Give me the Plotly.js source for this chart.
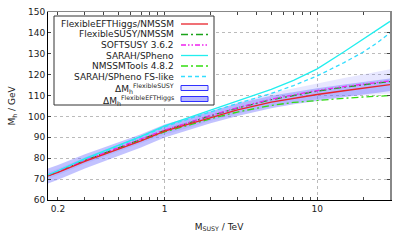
<!DOCTYPE html>
<html>
<head>
<meta charset="utf-8">
<script src="https://cdn.plot.ly/plotly-3.0.1.min.js"></script>
<style>html,body{margin:0;padding:0;background:#fff}#c{width:407px;height:244px}</style>
</head>
<body>
<div id="c"></div>
<script>
// M_SUSY / TeV
const msusy = [0.172, 0.2, 0.3, 0.5, 0.7, 1, 1.5, 2, 3, 5, 7, 10, 15, 20, 25, 30];
// M_h / GeV
const fehNMSSM   = [71.5, 73.2, 78.5, 84.5, 88.3, 93.0, 96.8, 99.7, 103.2, 106.9, 108.8, 110.5, 112.3, 113.5, 114.4, 115.2];
const fsNMSSM    = [71.7, 73.5, 78.9, 84.9, 88.8, 93.3, 97.3, 100.3, 104.0, 108.0, 110.0, 112.1, 114.0, 115.2, 116.1, 116.7];
const softsusy   = [71.8, 73.6, 79.0, 85.0, 89.0, 93.5, 97.5, 100.5, 104.2, 108.3, 110.3, 112.4, 114.3, 115.5, 116.4, 117.0];
const sarah      = [72.0, 74.0, 79.8, 86.2, 90.5, 95.5, 100.0, 103.2, 107.5, 113.0, 117.3, 122.8, 131.0, 137.0, 141.5, 145.5];
const nmssmtools = [71.8, 73.5, 78.8, 84.6, 88.3, 92.6, 96.2, 98.9, 102.1, 105.3, 106.7, 107.8, 108.7, 109.3, 109.7, 110.0];
const sarahFS    = [72.0, 74.0, 79.6, 86.0, 90.2, 95.0, 99.3, 102.3, 106.2, 111.0, 114.8, 119.4, 125.8, 130.8, 135.5, 140.0];
// uncertainty bands
const fsBandLow  = [70.2, 72.0, 77.3, 83.2, 87.0, 91.3, 95.0, 97.9, 101.3, 104.8, 106.5, 108.4, 109.6, 110.3, 110.8, 111.0];
const fsBandHigh = [73.2, 75.0, 80.5, 86.6, 90.6, 95.3, 99.6, 102.7, 106.7, 111.2, 113.5, 115.8, 118.4, 120.1, 121.4, 122.6];
const fehBandLow = [67.9, 69.7, 75.1, 81.2, 85.1, 89.9, 93.8, 96.7, 100.2, 103.9, 105.8, 107.5, 109.3, 110.5, 111.4, 112.2];
const fehBandHigh= [75.1, 76.7, 81.9, 87.8, 91.5, 96.1, 99.8, 102.7, 106.2, 109.9, 111.8, 113.5, 115.3, 116.5, 117.4, 118.2];
// ticks
const xTickVals = [0.2, 1, 10];
const xTickText = ['0.2', '1', '10'];
const xMinorVals = [0.3,0.4,0.5,0.6,0.7,0.8,0.9,2,3,4,5,6,7,8,9,20,30];
const xTopMinor = [0.2,0.3,0.4,0.5,0.6,0.7,0.8,0.9,2,3,4,5,6,7,8,9,20,30];

const names = ['FlexibleEFTHiggs/NMSSM','FlexibleSUSY/NMSSM','SOFTSUSY 3.6.2','SARAH/SPheno','NMSSMTools 4.8.2','SARAH/SPheno FS-like'];
const colors = ['#e8232b','#1aa31a','#ee22ee','#22eeee','#33dd11','#33ddff'];
const dashes = ['solid','7px,3px,2px,3px','5px,2px,1.5px,2px,1.5px,2px','solid','7px,3px,2px,3px','4px,3px'];
const series = [fehNMSSM, fsNMSSM, softsusy, sarah, nmssmtools, sarahFS];

const FONT = 'DejaVu Sans, sans-serif';
const traces = [];
traces.push({x: msusy, y: fsBandLow, mode:'lines', line:{width:0, color:'rgba(0,0,0,0)'}, showlegend:false, hoverinfo:'skip'});
traces.push({x: msusy, y: fsBandHigh, mode:'lines', fill:'tonexty', fillcolor:'rgba(120,120,255,0.18)', line:{width:0, color:'rgba(0,0,0,0)'}, showlegend:false, hoverinfo:'skip'});
traces.push({x: msusy, y: fehBandLow, mode:'lines', line:{width:0, color:'rgba(0,0,0,0)'}, showlegend:false, hoverinfo:'skip'});
traces.push({x: msusy, y: fehBandHigh, mode:'lines', fill:'tonexty', fillcolor:'rgba(110,110,255,0.42)', line:{width:0, color:'rgba(0,0,0,0)'}, showlegend:false, hoverinfo:'skip'});
const order = [4,1,5,2,0,3];
order.forEach(i => {
  const t = {x: msusy, y: series[i], mode:'lines', name:names[i], line:{color:colors[i], width:1.3, dash:dashes[i]}, showlegend:false};
  if (i === 3) { t.xaxis = 'x2'; t.yaxis = 'y2'; }
  traces.push(t);
});

const L=48, R=390, T=12, B=200;
const px = x => (x-L)/(R-L);
const py = y => (B-y)/(B-T);

const shapes = [];
const annotations = [];
shapes.push({type:'rect', xref:'paper', yref:'paper', x0:px(54), x1:px(214), y0:py(105), y1:py(16), fillcolor:'#ffffff', line:{color:'#333', width:1}, layer:'above'});
const rowY = [24, 34.5, 45, 55.5, 66, 76.5, 88, 99];
for (let i=0;i<6;i++){
  shapes.push({type:'line', xref:'paper', yref:'paper', x0:px(181), x1:px(208), y0:py(rowY[i]), y1:py(rowY[i]), line:{color:colors[i], width:1.3, dash:dashes[i]}, layer:'above'});
  annotations.push({xref:'paper', yref:'paper', x:px(176), y:py(rowY[i]), xanchor:'right', yanchor:'middle', text:names[i], showarrow:false, font:{family:FONT, size:9, color:'#222'}});
}
shapes.push({type:'rect', xref:'paper', yref:'paper', x0:px(181), x1:px(208), y0:py(rowY[6]+2.5), y1:py(rowY[6]-2.5), fillcolor:'rgba(120,120,255,0.18)', line:{color:'#3030ff', width:1}, layer:'above'});
shapes.push({type:'rect', xref:'paper', yref:'paper', x0:px(181), x1:px(208), y0:py(rowY[7]+2.5), y1:py(rowY[7]-2.5), fillcolor:'rgba(110,110,255,0.5)', line:{color:'#3030ff', width:1}, layer:'above'});
annotations.push({xref:'paper', yref:'paper', x:px(176), y:py(rowY[6]+0.5), xanchor:'right', yanchor:'middle', text:'ΔM<sub>h</sub><sup style="font-size:7px">FlexibleSUSY</sup>', showarrow:false, font:{family:FONT, size:9, color:'#222'}});
annotations.push({xref:'paper', yref:'paper', x:px(176), y:py(rowY[7]+1), xanchor:'right', yanchor:'middle', text:'ΔM<sub>h</sub><sup style="font-size:7px">FlexibleEFTHiggs</sup>', showarrow:false, font:{family:FONT, size:9, color:'#222'}});

const xr = [Math.log10(0.172), Math.log10(30)];
const layout = {
  width:407, height:244,
  margin:{l:L, r:407-R, t:T, b:244-B},
  paper_bgcolor:'#fff', plot_bgcolor:'#fff',
  font:{family:FONT, size:9, color:'#222'},
  showlegend:false,
  xaxis:{type:'log', range:xr, tickmode:'array', tickvals:xTickVals, ticktext:xTickText,
    ticks:'inside', ticklen:3, tickcolor:'#444', showline:true, linecolor:'#000', linewidth:1,
    showgrid:false, zeroline:false,
    minor:{tickmode:'array', tickvals:xMinorVals, ticks:'inside', ticklen:3, tickcolor:'#444', showgrid:false},
    title:{text:'M<sub>SUSY</sub> / TeV', font:{family:FONT, size:9, color:'#222'}, standoff:10}},
  xaxis2:{type:'log', range:xr, overlaying:'x', side:'top', anchor:'y', tickmode:'array', tickvals:[1,10],
    showticklabels:false, ticks:'inside', ticklen:3, tickcolor:'#444', showline:true, linecolor:'#888', linewidth:1,
    showgrid:true, gridcolor:'#bbb', griddash:'dot', gridwidth:1, zeroline:false,
    minor:{tickmode:'array', tickvals:xTopMinor, ticks:'inside', ticklen:3, tickcolor:'#444', showgrid:false}},
  yaxis:{range:[60,150], tickmode:'array', tickvals:[60,70,80,90,100,110,120,130,140,150],
    ticks:'inside', ticklen:3, tickcolor:'#444', showline:true, linecolor:'#000', linewidth:1,
    showgrid:true, gridcolor:'#bbb', griddash:'dot', gridwidth:1, zeroline:false,
    title:{text:'M<sub>h</sub> / GeV', font:{family:FONT, size:9, color:'#222'}, standoff:10}},
  yaxis2:{range:[60,150], overlaying:'y', side:'right', anchor:'x', tickmode:'array', tickvals:[70,80,90,100,110,120,130,140],
    showticklabels:false, ticks:'inside', ticklen:3, tickcolor:'#444', showline:true, linecolor:'#888', linewidth:2,
    showgrid:false, zeroline:false},
  shapes:shapes, annotations:annotations
};
Plotly.newPlot('c', traces, layout, {staticPlot:true, displayModeBar:false});
</script>
</body>
</html>
